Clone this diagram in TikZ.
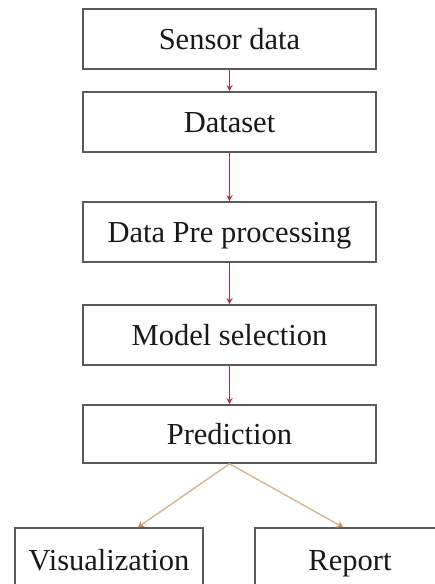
\documentclass[tikz,border=0pt]{standalone}
\usepackage{fontspec}
\setmainfont{Liberation Serif}
\usetikzlibrary{arrows.meta}
\definecolor{boxline}{HTML}{5A5A5A}
\definecolor{redarrow}{HTML}{B03040}
\definecolor{tanarrow}{HTML}{D9B896}
\definecolor{tantip}{HTML}{D08850}
\begin{document}
\begin{tikzpicture}[x=1pt,y=-1pt,
  box/.style={draw=boxline,line width=1.6pt,fill=white,inner sep=0pt,
    text=black!90,text height=21pt,text depth=1pt,
    font=\fontsize{30.5}{33}\selectfont},
  vbox/.style={box,minimum width=293pt,minimum height=60pt},
  redarr/.style={draw=redarrow,line width=1.2pt,-{Stealth[length=6pt,width=6pt,fill=redarrow]}},
  tanarr/.style={draw=tanarrow,line width=1.5pt,-{Stealth[length=6pt,width=7pt,color=tantip]}}]
\useasboundingbox (0,0) rectangle (435,584);
\clip (0,0) rectangle (435,584);
\node[vbox] (sensor) at (229.5,39) {Sensor data};
\node[vbox] (dataset) at (229.5,122) {Dataset};
\node[vbox] (pre) at (229.5,232) {Data Pre processing};
\node[vbox] (model) at (229.5,335) {Model selection};
\node[vbox,minimum height=58pt] (pred) at (229.5,434) {Prediction};
\node[box,minimum width=188pt,minimum height=64pt] (vis) at (109,560) {Visualization};
\node[box,minimum width=190pt,minimum height=64pt] (rep) at (350,560) {Report};
\draw[redarr] (sensor) -- (dataset);
\draw[redarr] (dataset) -- (pre);
\draw[redarr] (pre) -- (model);
\draw[redarr] (model) -- (pred);
\draw[tanarr] (pred.south) -- ([xshift=29pt]vis.north);
\draw[tanarr] (pred.south) -- ([xshift=-7pt]rep.north);
\end{tikzpicture}
\end{document}
